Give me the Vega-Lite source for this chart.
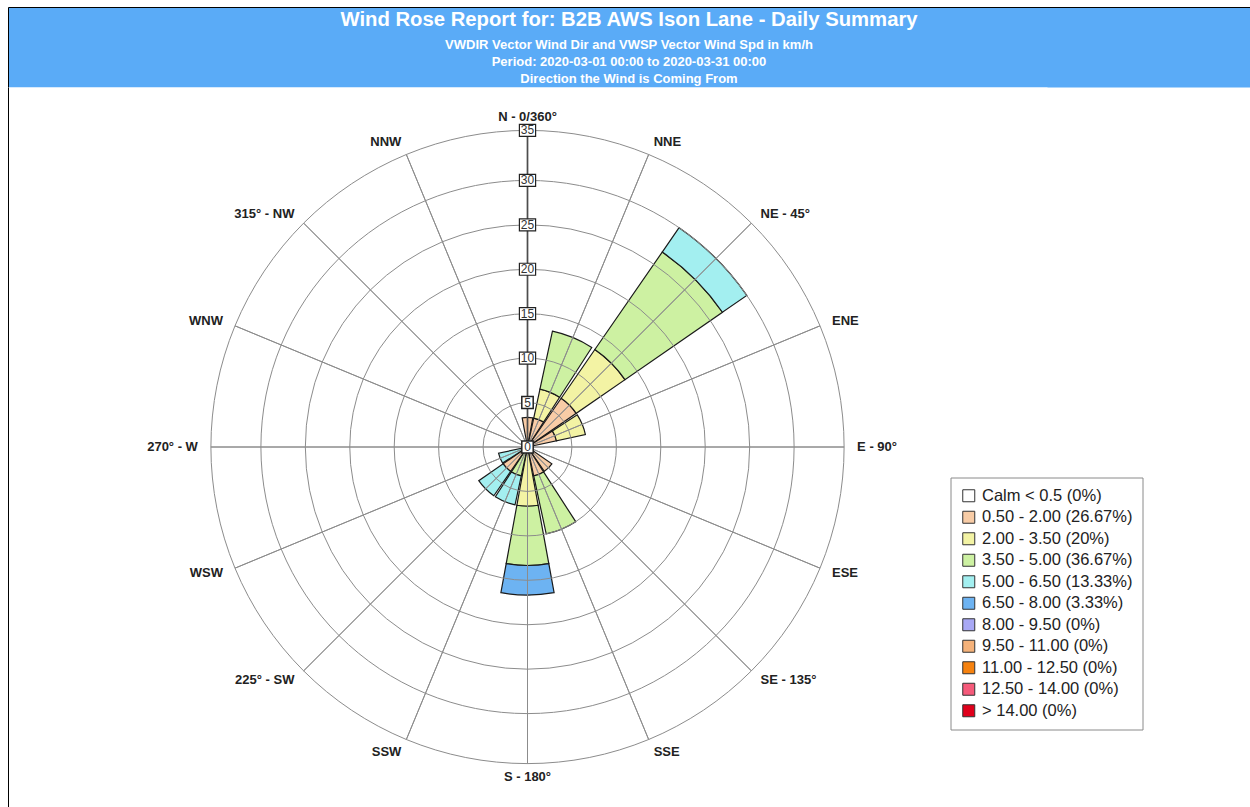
{
  "$schema": "https://vega.github.io/schema/vega-lite/v6.json",
  "padding": {"left": 7, "top": 6, "right": 0, "bottom": 0},
  "background": "white",
  "spacing": 0,
  "bounds": "flush",
  "config": {"font": "Liberation Sans", "view": {"stroke": null}},
  "datasets": {
    "head": [
      {"line": 0, "txt": "Wind Rose Report for: B2B AWS Ison Lane - Daily Summary"},
      {"line": 1, "txt": "VWDIR Vector Wind Dir and VWSP Vector Wind Spd in km/h"},
      {"line": 2, "txt": "Period: 2020-03-01 00:00 to 2020-03-31 00:00"},
      {"line": 3, "txt": "Direction the Wind is Coming From"}
    ],
    "petals": [
      {"dir": "N", "spd": "0.50 - 2.00 (26.67%)", "k": 1, "pct": 3.333},
      {"dir": "NNE", "spd": "0.50 - 2.00 (26.67%)", "k": 1, "pct": 3.333},
      {"dir": "NNE", "spd": "2.00 - 3.50 (20%)", "k": 2, "pct": 3.333},
      {"dir": "NNE", "spd": "3.50 - 5.00 (36.67%)", "k": 3, "pct": 6.667},
      {"dir": "NE", "spd": "0.50 - 2.00 (26.67%)", "k": 1, "pct": 6.667},
      {"dir": "NE", "spd": "2.00 - 3.50 (20%)", "k": 2, "pct": 6.667},
      {"dir": "NE", "spd": "3.50 - 5.00 (36.67%)", "k": 3, "pct": 13.333},
      {"dir": "NE", "spd": "5.00 - 6.50 (13.33%)", "k": 4, "pct": 3.333},
      {"dir": "ENE", "spd": "0.50 - 2.00 (26.67%)", "k": 1, "pct": 3.333},
      {"dir": "ENE", "spd": "2.00 - 3.50 (20%)", "k": 2, "pct": 3.333},
      {"dir": "SE", "spd": "0.50 - 2.00 (26.67%)", "k": 1, "pct": 3.333},
      {"dir": "SSE", "spd": "0.50 - 2.00 (26.67%)", "k": 1, "pct": 3.333},
      {"dir": "SSE", "spd": "3.50 - 5.00 (36.67%)", "k": 3, "pct": 6.667},
      {"dir": "S", "spd": "2.00 - 3.50 (20%)", "k": 2, "pct": 6.667},
      {"dir": "S", "spd": "3.50 - 5.00 (36.67%)", "k": 3, "pct": 6.667},
      {"dir": "S", "spd": "6.50 - 8.00 (3.33%)", "k": 5, "pct": 3.333},
      {"dir": "SSW", "spd": "3.50 - 5.00 (36.67%)", "k": 3, "pct": 3.333},
      {"dir": "SSW", "spd": "5.00 - 6.50 (13.33%)", "k": 4, "pct": 3.333},
      {"dir": "SW", "spd": "0.50 - 2.00 (26.67%)", "k": 1, "pct": 3.333},
      {"dir": "SW", "spd": "5.00 - 6.50 (13.33%)", "k": 4, "pct": 3.333},
      {"dir": "WSW", "spd": "5.00 - 6.50 (13.33%)", "k": 4, "pct": 3.333}
    ],
    "rings": [{"r": 5}, {"r": 10}, {"r": 15}, {"r": 20}, {"r": 25}, {"r": 30}, {"r": 35}],
    "spokes": [
      {"a": 0}, {"a": 22.5}, {"a": 45}, {"a": 67.5}, {"a": 90}, {"a": 112.5}, {"a": 135}, {"a": 157.5},
      {"a": 180}, {"a": 202.5}, {"a": 225}, {"a": 247.5}, {"a": 270}, {"a": 292.5}, {"a": 315}, {"a": 337.5}
    ],
    "dirs": [
      {"dir": "N", "label": "N - 0/360°"},
      {"dir": "NNE", "label": "NNE"},
      {"dir": "NE", "label": "NE - 45°"},
      {"dir": "ENE", "label": "ENE"},
      {"dir": "E", "label": "E - 90°"},
      {"dir": "ESE", "label": "ESE"},
      {"dir": "SE", "label": "SE - 135°"},
      {"dir": "SSE", "label": "SSE"},
      {"dir": "S", "label": "S - 180°"},
      {"dir": "SSW", "label": "SSW"},
      {"dir": "SW", "label": "225° - SW"},
      {"dir": "WSW", "label": "WSW"},
      {"dir": "W", "label": "270° - W"},
      {"dir": "WNW", "label": "WNW"},
      {"dir": "NW", "label": "315° - NW"},
      {"dir": "NNW", "label": "NNW"}
    ],
    "ticks": [{"v": 0}, {"v": 5}, {"v": 10}, {"v": 15}, {"v": 20}, {"v": 25}, {"v": 30}, {"v": 35}]
  },
  "vconcat": [
    {
      "width": 1242,
      "height": 80,
      "view": {"fill": "#5aabf7", "stroke": "#000000", "strokeWidth": 1, "strokeDash": [1242, 1322, 80, 0]},
      "data": {"name": "head"},
      "encoding": {
        "x": {"datum": 0, "type": "quantitative", "scale": {"domain": [-1, 1]}, "axis": null},
        "y": {"field": "line", "type": "quantitative", "scale": {"domain": [0, 3], "range": [21, 71.5]}, "axis": null},
        "text": {"field": "txt"}
      },
      "layer": [
        {"transform": [{"filter": "datum.line == 0"}], "mark": {"type": "text", "fontSize": 20.3, "fontWeight": "bold", "color": "white", "dy": -8.5}},
        {"transform": [{"filter": "datum.line > 0"}], "mark": {"type": "text", "fontSize": 13, "fontWeight": "bold", "color": "white"}}
      ]
    },
    {
      "width": 1039,
      "height": 720,
      "view": {"fill": "white", "stroke": "#000000", "strokeWidth": 1, "strokeDash": [0, 2798, 720, 0]},
      "resolve": {"scale": {"theta": "independent"}},
      "layer": [
        {
          "data": {"name": "petals"},
          "mark": {"type": "arc", "stroke": "#1a1a1a", "strokeWidth": 1.2},
          "encoding": {
            "theta": {"field": "dir", "type": "nominal", "scale": {"type": "band", "domain": ["N", "NNE", "NE", "ENE", "E", "ESE", "SE", "SSE", "S", "SSW", "SW", "WSW", "W", "WNW", "NW", "NNW"], "range": [-0.19635, 6.08684], "paddingInner": 0.08, "paddingOuter": 0.04}},
            "radius": {"field": "pct", "type": "quantitative", "stack": "zero", "scale": {"type": "linear", "domain": [0, 30, 35], "range": [0, 266.6, 316.6]}},
            "color": {
              "field": "spd",
              "type": "nominal",
              "scale": {
                "domain": ["Calm < 0.5 (0%)", "0.50 - 2.00 (26.67%)", "2.00 - 3.50 (20%)", "3.50 - 5.00 (36.67%)", "5.00 - 6.50 (13.33%)", "6.50 - 8.00 (3.33%)", "8.00 - 9.50 (0%)", "9.50 - 11.00 (0%)", "11.00 - 12.50 (0%)", "12.50 - 14.00 (0%)", "> 14.00 (0%)"],
                "range": ["#ffffff", "#f8cca6", "#f3f3a4", "#cdf1a2", "#a3eff0", "#6db3f2", "#a8a8f5", "#f5b27a", "#f6820f", "#f55a7a", "#e0001b"]
              },
              "legend": {
                "orient": "none", "legendX": 942.5, "legendY": 470.5, "title": null,
                "symbolType": "square", "symbolSize": 144, "symbolStrokeColor": "#333333", "symbolStrokeWidth": 1,
                "labelFont": "Liberation Sans", "labelFontSize": 16.5, "labelColor": "#222222", "labelLimit": 400, "labelOffset": 5,
                "padding": 10, "rowPadding": 4.5, "strokeColor": "#8a8a8a", "fillColor": "white"
              }
            },
            "order": {"field": "k", "type": "quantitative"}
          }
        },
        {
          "data": {"name": "rings"},
          "mark": {"type": "arc", "filled": false, "stroke": "#8c8c8c", "strokeWidth": 1, "theta": 0, "theta2": 6.2832},
          "encoding": {
            "radius": {"field": "r", "type": "quantitative", "stack": null}
          }
        },
        {
          "data": {"name": "spokes"},
          "mark": {"type": "arc", "filled": false, "stroke": "#8c8c8c", "strokeWidth": 1},
          "encoding": {
            "theta": {"field": "a", "type": "quantitative", "stack": null, "scale": {"domain": [0, 360], "range": [0, 6.283185]}},
            "theta2": {"field": "a"},
            "radius": {"datum": 35, "type": "quantitative", "stack": null}
          }
        },
        {
          "data": {"name": "ticks"},
          "mark": {"type": "rule", "color": "#4d4d4d", "strokeWidth": 1.1},
          "encoding": {
            "x": {"datum": 0, "type": "quantitative", "scale": {"domain": [-1, 1]}, "axis": null},
            "y": {"datum": 0, "type": "quantitative", "scale": {"domain": [0, 30, 35], "range": [360, 93.4, 43.4]}, "axis": null},
            "y2": {"datum": 35}
          }
        },
        {
          "data": {"name": "ticks"},
          "transform": [{"filter": "datum.v < 10"}],
          "mark": {"type": "point", "shape": "M-0.95,-1L0.95,-1L0.95,1L-0.95,1Z", "size": 144, "filled": true, "fill": "white", "stroke": "#222222", "strokeWidth": 1.5, "opacity": 1},
          "encoding": {
            "x": {"datum": 0, "type": "quantitative", "axis": null},
            "y": {"field": "v", "type": "quantitative", "axis": null}
          }
        },
        {
          "data": {"name": "ticks"},
          "transform": [{"filter": "datum.v >= 10"}],
          "mark": {"type": "point", "shape": "M-1.35,-1L1.35,-1L1.35,1L-1.35,1Z", "size": 144, "filled": true, "fill": "white", "stroke": "#222222", "strokeWidth": 1.2, "opacity": 1},
          "encoding": {
            "x": {"datum": 0, "type": "quantitative", "axis": null},
            "y": {"field": "v", "type": "quantitative", "axis": null}
          }
        },
        {
          "data": {"name": "ticks"},
          "mark": {"type": "text", "fontSize": 12, "color": "#333333"},
          "encoding": {
            "x": {"datum": 0, "type": "quantitative", "axis": null},
            "y": {"field": "v", "type": "quantitative", "axis": null},
            "text": {"field": "v", "type": "quantitative"}
          }
        },
        {
          "data": {"name": "dirs"},
          "transform": [{"filter": {"field": "dir", "oneOf": ["N", "S"]}}],
          "mark": {"type": "text", "align": "center", "baseline": "middle", "fontSize": 13, "fontWeight": "bold", "color": "#222222"},
          "encoding": {
            "theta": {"field": "dir", "type": "nominal", "scale": {"type": "band", "domain": ["N", "NNE", "NE", "ENE", "E", "ESE", "SE", "SSE", "S", "SSW", "SW", "WSW", "W", "WNW", "NW", "NNW"], "range": [-0.19635, 6.08684], "paddingInner": 0.08, "paddingOuter": 0.04}},
            "radius": {"datum": 36.3, "type": "quantitative"},
            "text": {"field": "label"}
          }
        },
        {
          "data": {"name": "dirs"},
          "transform": [{"filter": {"field": "dir", "oneOf": ["NNE", "NE", "ENE", "E", "ESE", "SE", "SSE"]}}],
          "mark": {"type": "text", "align": "left", "baseline": "middle", "fontSize": 13, "fontWeight": "bold", "color": "#222222"},
          "encoding": {
            "theta": {"field": "dir", "type": "nominal", "scale": {"type": "band", "domain": ["N", "NNE", "NE", "ENE", "E", "ESE", "SE", "SSE", "S", "SSW", "SW", "WSW", "W", "WNW", "NW", "NNW"], "range": [-0.19635, 6.08684], "paddingInner": 0.08, "paddingOuter": 0.04}},
            "radius": {"datum": 36.3, "type": "quantitative"},
            "text": {"field": "label"}
          }
        },
        {
          "data": {"name": "dirs"},
          "transform": [{"filter": {"field": "dir", "oneOf": ["SSW", "SW", "WSW", "W", "WNW", "NW", "NNW"]}}],
          "mark": {"type": "text", "align": "right", "baseline": "middle", "fontSize": 13, "fontWeight": "bold", "color": "#222222"},
          "encoding": {
            "theta": {"field": "dir", "type": "nominal", "scale": {"type": "band", "domain": ["N", "NNE", "NE", "ENE", "E", "ESE", "SE", "SSE", "S", "SSW", "SW", "WSW", "W", "WNW", "NW", "NNW"], "range": [-0.19635, 6.08684], "paddingInner": 0.08, "paddingOuter": 0.04}},
            "radius": {"datum": 36.3, "type": "quantitative"},
            "text": {"field": "label"}
          }
        }
      ]
    }
  ]
}
